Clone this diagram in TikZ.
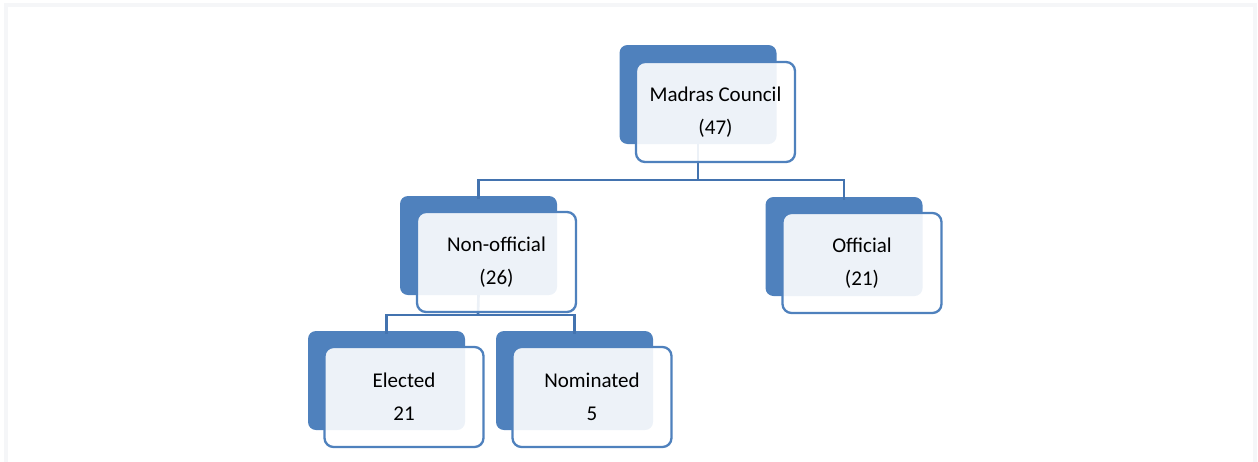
\documentclass[tikz,border=0pt]{standalone}
\usepackage{fontspec}
\setmainfont{Carlito}
\definecolor{dblue}{HTML}{4F81BD}
\definecolor{conn}{HTML}{4373AF}
\definecolor{framec}{HTML}{F5F6F8}
\begin{document}
\begin{tikzpicture}[x=1pt,y=-1pt,
  back/.style={fill=dblue, rounded corners=8pt, minimum width=157pt, minimum height=99pt, inner sep=0pt},
  front/.style={draw=dblue, line width=2.3pt, fill=white, fill opacity=0.9, text opacity=1, draw opacity=1,
    rounded corners=9pt, minimum width=159pt, minimum height=100pt, align=center,
    font=\fontsize{21}{33}\selectfont, inner sep=0pt, text=black},
  link/.style={draw=conn, line width=2.6pt}]
\useasboundingbox (0,0) rectangle (1258,461);
\draw[framec, line width=4pt] (6,470) -- (6,5) -- (1255,5) -- (1255,470);

% back boxes
\node[back] (mcb) at (698,94.5) {};
\node[back] (nob) at (478.5,245.5) {};
\node[back] (ofb) at (844,246.5) {};
\node[back] (elb) at (386.5,380.5) {};
\node[back] (nmb) at (574.5,380.5) {};

% connectors (drawn before front boxes)
\coordinate (j1) at (698,180);
\coordinate (j2) at (478,315);
\draw[link] (mcb.south) -- (j1);
\draw[link] (j1) -| ([yshift=-3pt]nob.north);
\draw[link] (j1) -| ([yshift=-3pt]ofb.north);
\draw[link] (nob.south) -- (j2);
\draw[link] (j2) -| ([yshift=-3pt]elb.north);
\draw[link] (j2) -| ([yshift=-3pt]nmb.north);

% front boxes
\node[front] (mc) at (715.5,112) {Madras Council\\(47)};
\node[front] (no) at (496.5,262) {Non-official\\(26)};
\node[front] (of) at (862,263) {Official\\(21)};
\node[front] (el) at (404,397) {Elected\\21};
\node[front] (nm) at (592,397) {Nominated\\5};
\end{tikzpicture}
\end{document}
